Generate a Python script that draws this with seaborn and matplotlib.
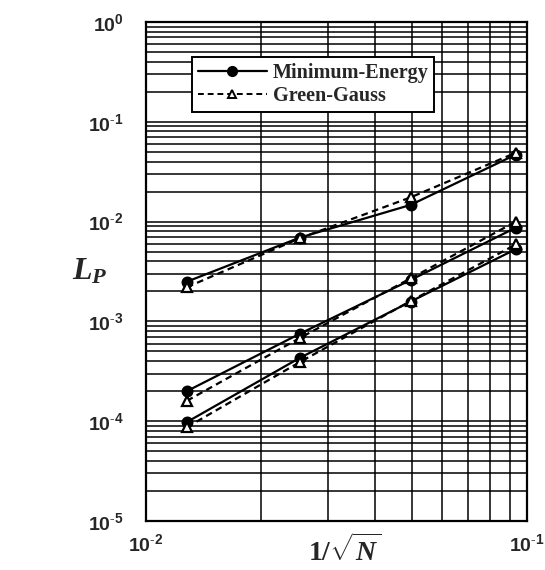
import numpy as np
import pandas as pd
import matplotlib
matplotlib.use("Agg")
import matplotlib.pyplot as plt
import seaborn as sns
from matplotlib.lines import Line2D
from matplotlib.ticker import LogLocator, FixedLocator, FixedFormatter, NullFormatter

# ---- data ----
inv_sqrt_n = [0.0128, 0.0253, 0.0495, 0.0935]
# three error curves, each for Minimum-Energy and Green-Gauss
min_energy_top = [2.5e-3, 6.9e-3, 1.47e-2, 4.7e-2]
green_gauss_top = [2.2e-3, 6.8e-3, 1.75e-2, 4.9e-2]
min_energy_mid = [2.0e-4, 7.5e-4, 2.6e-3, 8.7e-3]
green_gauss_mid = [1.6e-4, 6.8e-4, 2.7e-3, 1.0e-2]
min_energy_low = [9.8e-5, 4.3e-4, 1.58e-3, 5.3e-3]
green_gauss_low = [8.7e-5, 3.9e-4, 1.6e-3, 5.9e-3]
methods = ["Minimum-Energy", "Green-Gauss"]
y_tick_labels = ["10^{\\text{-}5}", "10^{\\text{-}4}", "10^{\\text{-}3}",
                 "10^{\\text{-}2}", "10^{\\text{-}1}", "10^{0}"]
x_tick_labels = ["10^{\\text{-}2}", "10^{\\text{-}1}"]

rows = []
for case, me, gg in [("top", min_energy_top, green_gauss_top),
                     ("mid", min_energy_mid, green_gauss_mid),
                     ("low", min_energy_low, green_gauss_low)]:
    for x, v in zip(inv_sqrt_n, me):
        rows.append(dict(x=x, y=v, method=methods[0], case=case))
    for x, v in zip(inv_sqrt_n, gg):
        rows.append(dict(x=x, y=v, method=methods[1], case=case))
df = pd.DataFrame(rows)

sns.set_style("white")
plt.rcParams["font.family"] = ["Liberation Sans", "DejaVu Sans"]
plt.rcParams["mathtext.fontset"] = "custom"
plt.rcParams["mathtext.rm"] = "Liberation Serif:bold"
plt.rcParams["mathtext.it"] = "Liberation Serif:bold:italic"
plt.rcParams["axes.unicode_minus"] = False

fig = plt.figure(figsize=(5.45, 5.70), dpi=100)
ax = fig.add_axes([146 / 545, 1 - 521 / 570, (527 - 146) / 545, (521 - 22) / 570])

ax.set_xscale("log")
ax.set_yscale("log")
ax.set_xlim(1e-2, 1e-1)
ax.set_ylim(1e-5, 1e0)

styles = {methods[0]: dict(ls="-", marker="o", mfc="black", ms=7),
          methods[1]: dict(ls=(0, (3, 2)), marker="^", mfc="white", ms=7)}
for case in ["top", "mid", "low"]:
    for m in methods:
        sub = df[(df.case == case) & (df.method == m)]
        st = styles[m]
        sns.lineplot(data=sub, x="x", y="y", ax=ax, color="black", lw=1.6,
                     linestyle=st["ls"], marker=st["marker"], markersize=st["ms"],
                     markerfacecolor=st["mfc"], markeredgecolor="black",
                     markeredgewidth=1.6, legend=False, zorder=5)

# grid
ax.xaxis.set_major_locator(FixedLocator([1e-2, 1e-1]))
ax.yaxis.set_major_locator(FixedLocator([10.0 ** k for k in range(-5, 1)]))
ax.xaxis.set_minor_locator(LogLocator(base=10, subs=np.arange(2, 10)))
ax.yaxis.set_minor_locator(LogLocator(base=10, subs=np.arange(2, 10), numticks=20))
ax.xaxis.set_minor_formatter(NullFormatter())
ax.yaxis.set_minor_formatter(NullFormatter())
ax.grid(True, which="both", color="black", lw=1.1)
ax.set_axisbelow(True)
ax.tick_params(which="both", length=0)
for s in ax.spines.values():
    s.set_color("black")
    s.set_linewidth(1.6)

ax.yaxis.set_major_formatter(FixedFormatter(["$\\mathregular{%s}$" % t for t in y_tick_labels]))
ax.xaxis.set_major_formatter(FixedFormatter(["$\\mathregular{%s}$" % t for t in x_tick_labels]))
for lab in ax.get_yticklabels() + ax.get_xticklabels():
    lab.set_fontweight("bold")
    lab.set_fontsize(14)
ax.tick_params(axis="y", pad=16)
ax.tick_params(axis="x", pad=9)

ax.set_xlabel("")
ax.set_ylabel("")
fig.text(345 / 545, 1 - 551 / 570, "$1/\\sqrt{N}$", fontsize=20, ha="center", va="center")
fig.text(90 / 545, 1 - 272 / 570, "$L_P$", fontsize=23, ha="center", va="center")

handles = [Line2D([], [], color="black", lw=1.6, ls="-", marker="o", mfc="black",
                  mec="black", ms=7),
           Line2D([], [], color="black", lw=1.4, ls=(0, (3, 2)), marker="^", mfc="white",
                  mec="black", ms=6, mew=1.4)]
leg = ax.legend(handles, methods, loc="upper left",
                bbox_to_anchor=((192 - 146) / 381, (521 - 57) / 499),
                frameon=True, fancybox=False, framealpha=1, edgecolor="black",
                prop=dict(family="Liberation Serif", weight="bold", size=14.5),
                handlelength=3.4, handletextpad=0.3, borderpad=0.3, labelspacing=0.15,
                borderaxespad=0)
leg.get_frame().set_linewidth(1.4)
leg.set_zorder(10)

fig.savefig("out.png", dpi=100, facecolor="white")
